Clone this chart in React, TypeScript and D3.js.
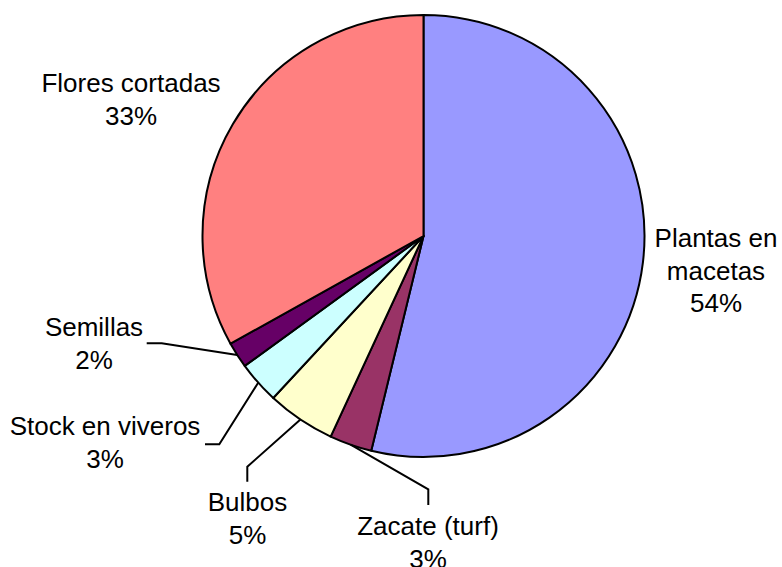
import React from "react";
import * as d3 from "d3";

const categories = ["Plantas en macetas", "Zacate (turf)", "Bulbos", "Stock en viveros", "Semillas", "Flores cortadas"];
const values = [53.8, 3.1, 5.0, 3.1, 1.9, 33.1];
const percentLabels = ["54%", "3%", "5%", "3%", "2%", "33%"];
const colors = ["#9999FF", "#993366", "#FFFFCC", "#CCFFFF", "#660066", "#FF8080"];

// label layout: text lines, centre x, first baseline, leader elbow points
const labelLayout = [
  { lines: ["Plantas en", "macetas"], x: 716, y: 247, leader: null },
  { lines: ["Zacate (turf)"], x: 428, y: 535, leader: [[428.3, 489.3], [428.3, 505]] },
  { lines: ["Bulbos"], x: 247.5, y: 511, leader: [[247.3, 466.7], [247.3, 481.7]] },
  { lines: ["Stock en viveros"], x: 105, y: 435, leader: [[219.3, 444.3], [205, 444.3]] },
  { lines: ["Semillas"], x: 94, y: 336, leader: [[161.7, 343.3], [146.7, 343.3]] },
  { lines: ["Flores cortadas"], x: 131, y: 92, leader: null },
];

const W = 782;
const H = 567;
const cx = 423.5;
const cy = 236;
const R = 221;
const lineH = 32.7;

export default function App() {
  const pie = d3.pie<number>().sort(null).value((d) => d).startAngle(0).endAngle(2 * Math.PI);
  const arcs = pie(values);
  const arc = d3.arc<d3.PieArcDatum<number>>().innerRadius(0).outerRadius(R);

  return (
    <svg width={W} height={H} style={{ position: "absolute", left: 0, top: 0, background: "#fff" }}
      fontFamily="'Liberation Sans', Arial, sans-serif">
      <g transform={`translate(${cx},${cy})`}>
        {arcs.map((a, i) => (
          <path key={i} d={arc(a) || ""} fill={colors[i]} stroke="#000" strokeWidth={2} strokeLinejoin="round" />
        ))}
      </g>
      {arcs.map((a, i) => {
        const lay = labelLayout[i];
        if (!lay.leader) return null;
        const mid = (a.startAngle + a.endAngle) / 2;
        const sx = cx + R * Math.sin(mid);
        const sy = cy - R * Math.cos(mid);
        const pts = [[sx, sy], ...lay.leader];
        return (
          <polyline key={"l" + i} points={pts.map((p) => p.join(",")).join(" ")} fill="none" stroke="#000" strokeWidth={2} />
        );
      })}
      {labelLayout.map((lay, i) => (
        <text key={"t" + i} textAnchor="middle" fontSize={26} fill="#000">
          {[...lay.lines, percentLabels[i]].map((ln, j) => (
            <tspan key={j} x={lay.x} y={lay.y + j * lineH}>{ln}</tspan>
          ))}
        </text>
      ))}
    </svg>
  );
}
